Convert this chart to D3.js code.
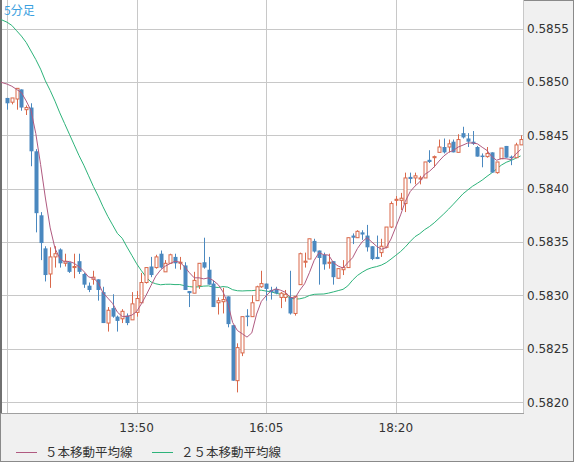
<!DOCTYPE html>
<html><head><meta charset="utf-8">
<script src="https://cdn.jsdelivr.net/npm/d3@7"></script>
<style>body{margin:0;background:#f0f0f0}svg{display:block}</style>
</head><body><svg id="c" width="574" height="462"></svg>
<script>
const open=[0.58485,0.58481,0.58484,0.58493,0.58474,0.58476,0.58435,0.58375,0.58344,0.58320,0.58336,0.58343,0.58330,0.58331,0.58326,0.58332,0.58320,0.58309,0.58315,0.58315,0.58303,0.58274,0.58288,0.58280,0.58278,0.58281,0.58277,0.58284,0.58293,0.58312,0.58327,0.58326,0.58339,0.58322,0.58330,0.58336,0.58330,0.58328,0.58304,0.58302,0.58309,0.58331,0.58324,0.58311,0.58293,0.58294,0.58299,0.58272,0.58220,0.58246,0.58281,0.58280,0.58295,0.58308,0.58311,0.58305,0.58306,0.58298,0.58298,0.58298,0.58283,0.58310,0.58331,0.58334,0.58351,0.58342,0.58338,0.58330,0.58332,0.58316,0.58324,0.58326,0.58356,0.58354,0.58359,0.58356,0.58346,0.58336,0.58340,0.58345,0.58364,0.58389,0.58389,0.58386,0.58411,0.58410,0.58409,0.58410,0.58427,0.58429,0.58434,0.58439,0.58439,0.58444,0.58434,0.58452,0.58447,0.58444,0.58439,0.58431,0.58430,0.58434,0.58415,0.58428,0.58440,0.58430,0.58429,0.58441];
const high=[0.58485,0.58485,0.58494,0.58493,0.58478,0.58480,0.58437,0.58378,0.58346,0.58345,0.58346,0.58344,0.58339,0.58331,0.58339,0.58339,0.58321,0.58312,0.58323,0.58315,0.58308,0.58289,0.58301,0.58281,0.58287,0.58283,0.58303,0.58304,0.58321,0.58326,0.58336,0.58338,0.58342,0.58333,0.58339,0.58339,0.58336,0.58331,0.58304,0.58322,0.58330,0.58354,0.58336,0.58314,0.58298,0.58307,0.58299,0.58272,0.58255,0.58280,0.58287,0.58300,0.58309,0.58323,0.58311,0.58308,0.58308,0.58303,0.58305,0.58323,0.58299,0.58340,0.58340,0.58353,0.58353,0.58342,0.58340,0.58339,0.58332,0.58325,0.58333,0.58354,0.58358,0.58361,0.58361,0.58366,0.58346,0.58356,0.58353,0.58364,0.58388,0.58393,0.58396,0.58415,0.58415,0.58415,0.58412,0.58425,0.58436,0.58431,0.58446,0.58447,0.58446,0.58446,0.58451,0.58458,0.58452,0.58454,0.58440,0.58433,0.58439,0.58434,0.58425,0.58438,0.58440,0.58431,0.58443,0.58450];
const low=[0.58474,0.58479,0.58474,0.58473,0.58469,0.58421,0.58359,0.58333,0.58313,0.58307,0.58326,0.58326,0.58327,0.58321,0.58316,0.58320,0.58307,0.58303,0.58310,0.58295,0.58274,0.58266,0.58279,0.58266,0.58274,0.58272,0.58277,0.58280,0.58293,0.58311,0.58317,0.58325,0.58325,0.58322,0.58330,0.58325,0.58324,0.58305,0.58289,0.58302,0.58306,0.58325,0.58310,0.58289,0.58282,0.58283,0.58270,0.58220,0.58209,0.58243,0.58271,0.58280,0.58295,0.58307,0.58295,0.58296,0.58301,0.58288,0.58294,0.58282,0.58281,0.58310,0.58326,0.58334,0.58340,0.58310,0.58324,0.58325,0.58310,0.58316,0.58319,0.58326,0.58348,0.58354,0.58352,0.58341,0.58333,0.58334,0.58336,0.58344,0.58363,0.58384,0.58380,0.58378,0.58405,0.58404,0.58404,0.58410,0.58424,0.58420,0.58434,0.58433,0.58434,0.58434,0.58434,0.58447,0.58439,0.58441,0.58430,0.58420,0.58429,0.58415,0.58414,0.58428,0.58429,0.58422,0.58429,0.58441];
const close=[0.58480,0.58485,0.58494,0.58476,0.58476,0.58435,0.58377,0.58349,0.58319,0.58336,0.58339,0.58330,0.58332,0.58322,0.58327,0.58322,0.58310,0.58305,0.58317,0.58305,0.58274,0.58286,0.58280,0.58276,0.58285,0.58274,0.58292,0.58297,0.58312,0.58326,0.58319,0.58336,0.58326,0.58330,0.58338,0.58330,0.58331,0.58305,0.58302,0.58314,0.58330,0.58326,0.58310,0.58289,0.58295,0.58296,0.58273,0.58220,0.58251,0.58280,0.58280,0.58293,0.58308,0.58311,0.58306,0.58303,0.58302,0.58302,0.58301,0.58283,0.58299,0.58339,0.58332,0.58353,0.58341,0.58335,0.58329,0.58331,0.58317,0.58325,0.58326,0.58354,0.58354,0.58360,0.58357,0.58345,0.58334,0.58334,0.58346,0.58364,0.58386,0.58390,0.58391,0.58410,0.58409,0.58412,0.58410,0.58425,0.58425,0.58430,0.58439,0.58434,0.58442,0.58434,0.58446,0.58448,0.58444,0.58442,0.58430,0.58430,0.58433,0.58415,0.58425,0.58438,0.58429,0.58429,0.58441,0.58446];
// moving averages at the left edge and before enough bars are on screen
const ma5Edge=0.58500;
const ma25Edge=0.58559;
const ma5Head=[0.58498,0.58496,0.58493,0.58490];
const ma25Head=[0.58556,0.58553,0.58548,0.58543,0.58537,0.58529,0.58521,0.58512,0.58501,0.58492,0.58482,0.58471,0.58461,0.58451,0.58441,0.58431,0.58422,0.58412,0.58402,0.58393,0.58383,0.58374,0.58366,0.58358];
const yTicks=[0.5820,0.5825,0.5830,0.5835,0.5840,0.5845,0.5850,0.5855];
const xGridIdx=[0,27,54,81];
const xLabels=[[27,"13:50"],[54,"16:05"],[81,"18:20"]];
const title="5分足";
const legend=[["５本移動平均線","#b05a80"],["２５本移動平均線","#2db37a"]];

const svg=d3.select("#c");
const W=574,H=462,pl=1,pr=523,pt=0,pb=413;
const x=d3.scaleLinear().domain([0,107]).range([7,520.6]);
const y=d3.scaleLinear().domain([0.5820,0.5855]).range([402,28.6]);
svg.append("rect").attr("x",0.5).attr("y",0.5).attr("width",W-1).attr("height",H-1).attr("fill","#f0f0f0").attr("stroke","#8a8a8a");
svg.append("rect").attr("x",pl).attr("y",pt).attr("width",pr-pl).attr("height",pb-pt).attr("fill","#fff");
const g=svg.append("g");
yTicks.forEach(t=>g.append("line").attr("x1",pl).attr("x2",pr).attr("y1",Math.round(y(t))+0.5).attr("y2",Math.round(y(t))+0.5).attr("stroke","#c8c8c8"));
xGridIdx.forEach(i=>g.append("line").attr("x1",Math.round(x(i))+0.5).attr("x2",Math.round(x(i))+0.5).attr("y1",pt).attr("y2",pb).attr("stroke","#c8c8c8"));
svg.append("line").attr("x1",pr+0.5).attr("x2",pr+0.5).attr("y1",0).attr("y2",pb).attr("stroke","#c8c8c8");
svg.append("line").attr("x1",pl).attr("x2",pr+1).attr("y1",pb+0.5).attr("y2",pb+0.5).attr("stroke","#a0a0a0");
svg.append("line").attr("x1",1).attr("x2",1).attr("y1",0).attr("y2",pb).attr("stroke","#707070").attr("stroke-width",2);

const n=close.length;
const ma=(p,head,edge)=>[[-1.5,edge]].concat(d3.range(n).map(i=>[i,i<head.length?head[i]:d3.mean(close.slice(i-p+1,i+1))]));
const ma5=ma(5,ma5Head,ma5Edge),ma25=ma(25,ma25Head,ma25Edge);
const line=d3.line().x(d=>x(d[0])).y(d=>y(d[1]));
svg.append("clipPath").attr("id","clp").append("rect").attr("x",pl).attr("y",pt).attr("width",pr-pl).attr("height",pb-pt);
const cg=svg.append("g").attr("clip-path","url(#clp)");
cg.append("path").attr("d",line(ma25)).attr("fill","none").attr("stroke","#2db37a").attr("stroke-width",1);

d3.range(n).forEach(i=>{
  const up=close[i]>=open[i];
  const col=up?"#d9684a":"#4a88bf";
  const cx=Math.round(x(i))+0.5;
  cg.append("line").attr("x1",cx).attr("x2",cx).attr("y1",y(high[i])).attr("y2",y(low[i])).attr("stroke",col);
  const t=y(Math.max(open[i],close[i])),b=y(Math.min(open[i],close[i]));
  if(up) cg.append("rect").attr("x",cx-1.5).attr("y",t).attr("width",3).attr("height",Math.max(1,b-t)).attr("fill","#fff").attr("stroke",col);
  else cg.append("rect").attr("x",cx-2).attr("y",t).attr("width",4).attr("height",Math.max(1.5,b-t)).attr("fill",col);
});
cg.append("path").attr("d",line(ma5)).attr("fill","none").attr("stroke","#b05a80").attr("stroke-width",1);

svg.append("text").attr("x",4).attr("y",15).text(title).attr("fill","#3aa0e0").attr("font-size",12).attr("font-family","Noto Sans CJK JP");
yTicks.forEach(t=>svg.append("text").attr("x",527).attr("y",y(t)+4.5).text(t.toFixed(4)).attr("font-size",12).attr("font-family","DejaVu Sans").attr("fill","#333"));
xLabels.forEach(([i,s])=>svg.append("text").attr("x",x(i)).attr("y",432).attr("text-anchor","middle").text(s).attr("font-size",12).attr("font-family","DejaVu Sans").attr("fill","#333"));
legend.forEach(([s,c],k)=>{
  const ox=k===0?16:152;
  svg.append("line").attr("x1",ox).attr("x2",ox+21).attr("y1",452.5).attr("y2",452.5).attr("stroke",c);
  svg.append("text").attr("x",ox+29).attr("y",457).text(s).attr("font-size",12.5).attr("font-family","Noto Sans CJK JP").attr("fill","#333");
});
</script></body></html>
